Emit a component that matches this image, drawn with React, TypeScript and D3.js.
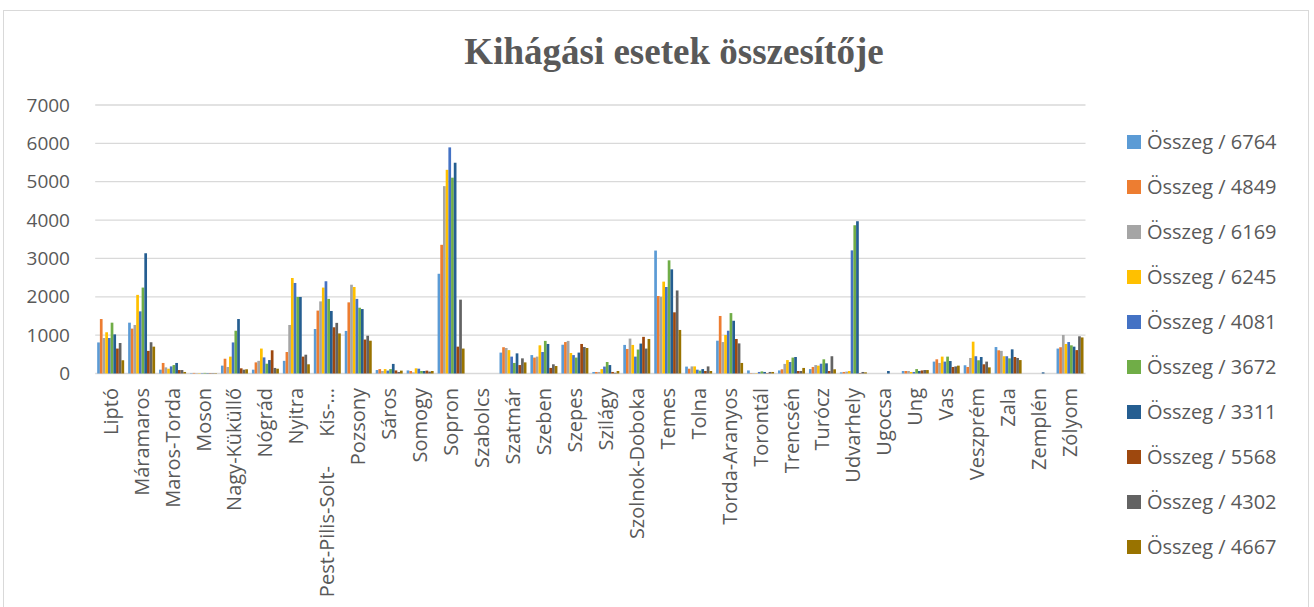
import React from "react";
import * as d3 from "d3";

const categories = [
  "Liptó", "Máramaros", "Maros-Torda", "Moson", "Nagy-Küküllő", "Nógrád", "Nyitra",
  "Pest-Pilis-Solt-Kis-…", "Pozsony", "Sáros", "Somogy", "Sopron", "Szabolcs", "Szatmár",
  "Szeben", "Szepes", "Szilágy", "Szolnok-Doboka", "Temes", "Tolna", "Torda-Aranyos",
  "Torontál", "Trencsén", "Turócz", "Udvarhely", "Ugocsa", "Ung", "Vas", "Veszprém",
  "Zala", "Zemplén", "Zólyom",
];

const seriesNames = [
  "Összeg / 6764", "Összeg / 4849", "Összeg / 6169", "Összeg / 6245", "Összeg / 4081",
  "Összeg / 3672", "Összeg / 3311", "Összeg / 5568", "Összeg / 4302", "Összeg / 4667",
];

const s6764 = [810, 1325, 100, 10, 205, 100, 330, 1160, 1110, 90, 80, 2600, 0, 545, 480, 750, 40, 745, 3205, 180, 855, 80, 80, 115, 30, 0, 65, 310, 215, 690, 0, 650];
const s4849 = [1420, 1170, 275, 15, 385, 290, 560, 1640, 1855, 115, 65, 3355, 0, 685, 415, 820, 40, 640, 2020, 125, 1500, 10, 110, 170, 40, 0, 65, 370, 170, 605, 0, 685];
const s6169 = [925, 1265, 160, 10, 170, 330, 1265, 1880, 2315, 65, 30, 4885, 0, 665, 440, 850, 40, 910, 2000, 185, 820, 10, 250, 220, 50, 0, 65, 275, 405, 590, 0, 1005];
const s6245 = [1075, 2050, 125, 10, 440, 650, 2490, 2240, 2255, 115, 135, 5310, 0, 610, 735, 535, 115, 745, 2395, 185, 1005, 10, 350, 205, 65, 0, 40, 440, 830, 450, 0, 770];
const s4081 = [925, 1620, 185, 10, 810, 420, 2360, 2405, 1945, 75, 125, 5895, 0, 440, 560, 480, 180, 440, 2255, 100, 1115, 40, 300, 255, 3210, 0, 40, 310, 450, 450, 0, 820];
const s3672 = [1325, 2240, 220, 15, 1115, 255, 1995, 1945, 1715, 115, 65, 5105, 0, 275, 850, 415, 300, 625, 2950, 75, 1575, 55, 415, 370, 3865, 0, 115, 440, 345, 395, 0, 735];
const s3311 = [1020, 3135, 275, 10, 1420, 350, 1995, 1630, 1680, 250, 65, 5495, 0, 525, 770, 545, 220, 780, 2715, 115, 1375, 40, 430, 265, 3970, 65, 65, 325, 430, 630, 30, 700];
const s5568 = [650, 590, 90, 10, 135, 605, 440, 1205, 885, 80, 75, 700, 0, 220, 145, 770, 40, 955, 1595, 65, 900, 10, 65, 65, 10, 0, 80, 170, 240, 430, 0, 610];
const s4302 = [795, 815, 90, 10, 100, 145, 490, 1320, 985, 40, 50, 1925, 0, 395, 240, 690, 20, 650, 2165, 185, 785, 40, 65, 450, 40, 0, 90, 185, 310, 405, 0, 970];
const s4667 = [345, 700, 40, 10, 110, 125, 240, 1045, 855, 75, 65, 650, 0, 290, 195, 665, 65, 900, 1135, 65, 275, 40, 145, 110, 30, 0, 90, 205, 160, 350, 0, 940];

const seriesValues = [s6764, s4849, s6169, s6245, s4081, s3672, s3311, s5568, s4302, s4667];

const colors = ["#5B9BD5", "#ED7D31", "#A5A5A5", "#FFC000", "#4472C4", "#70AD47", "#255E91", "#9E480E", "#636363", "#997300"];

const yTicks = [0, 1000, 2000, 3000, 4000, 5000, 6000, 7000];

const FONT = "'Open Sans', 'Noto Sans', sans-serif";
const TXT = "#595959";

export default function App() {
  const W = 1314;
  const H = 607;
  const left = 95.2;
  const right = 1085.5;
  const top = 105;
  const bottom = 373.5;

  const x0 = d3.scaleBand<string>().domain(categories).range([left, right]).paddingInner(0.128).paddingOuter(0.064);
  const x1 = d3.scaleBand<string>().domain(seriesNames).range([0, x0.bandwidth()]);
  const y = d3.scaleLinear().domain([0, 7000]).range([bottom, top]);

  return (
    <svg width={W} height={H} style={{ position: "absolute", left: 0, top: 0, background: "#fff" }}>
      <rect x={3.5} y={10.5} width={1305} height={620} fill="#fff" stroke="#d9d9d9" strokeWidth={1} />
      <text x={674} y={64} textAnchor="middle" fontFamily="'Liberation Serif', 'Times New Roman', serif" fontWeight="bold" fontSize={37} fill={TXT}>
        Kihágási esetek összesítője
      </text>
      {yTicks.map((t) => (
        <g key={t}>
          <line x1={left} x2={right} y1={y(t)} y2={y(t)} stroke="#d9d9d9" strokeWidth={1.3} />
          <text x={70} y={y(t)} dy="0.35em" textAnchor="end" fontFamily={FONT} fontSize={19} fill={TXT}>
            {t}
          </text>
        </g>
      ))}
      {categories.map((c, ci) => (
        <g key={c} transform={`translate(${x0(c)},0)`}>
          {seriesNames.map((s, si) => {
            const v = seriesValues[si][ci];
            return (
              <rect key={s} x={x1(s)} y={y(v)} width={x1.bandwidth()} height={y(0) - y(v)} fill={colors[si]} />
            );
          })}
        </g>
      ))}
      {categories.map((c) => {
        const cx = (x0(c) as number) + x0.bandwidth() / 2;
        if (c.startsWith("Pest")) {
          return (
            <g key={c}>
              <text transform={`translate(${cx},388) rotate(-90)`} textAnchor="end" dy="0.35em" fontFamily={FONT} fontSize={20} fill={TXT}>Kis-…</text>
              <text transform={`translate(${cx},466) rotate(-90)`} textAnchor="end" dy="0.35em" fontFamily={FONT} fontSize={20} fill={TXT}>Pest-Pilis-Solt-</text>
            </g>
          );
        }
        return (
          <text key={c} transform={`translate(${cx},388) rotate(-90)`} textAnchor="end" dy="0.35em" fontFamily={FONT} fontSize={20} fill={TXT}>
            {c}
          </text>
        );
      })}
      {seriesNames.map((s, i) => (
        <g key={s} transform={`translate(1127,${142 + i * 45})`}>
          <rect x={0} y={-7} width={14} height={14} fill={colors[i]} />
          <text x={20} y={0} dy="0.35em" fontFamily={FONT} fontSize={20} fill={TXT}>{s}</text>
        </g>
      ))}
    </svg>
  );
}
